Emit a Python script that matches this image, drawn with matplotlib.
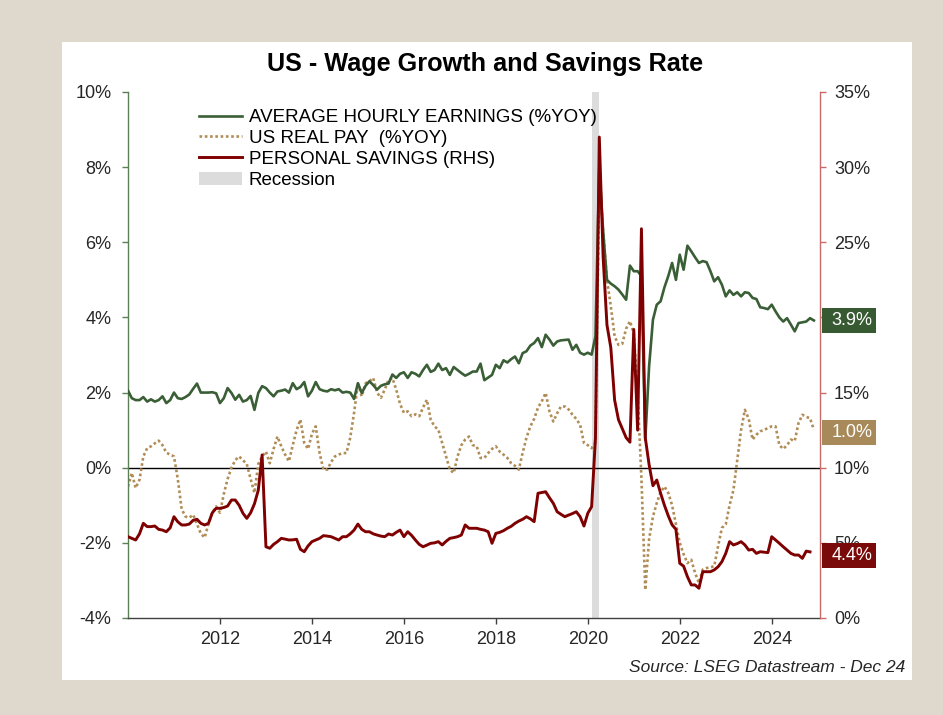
import matplotlib
matplotlib.use('Agg')
import matplotlib.pyplot as plt
import numpy as np
from matplotlib.lines import Line2D
from matplotlib.patches import Patch, Rectangle
import matplotlib.transforms as mtransforms

plt.rcParams['font.family'] = ['Liberation Sans', 'DejaVu Sans']

# ---------------- data (monthly, starting Jan 2010) ----------------
ahe = [
    2.05, 1.85, 1.80, 1.80, 1.88, 1.76, 1.82, 1.76, 1.80, 1.90, 1.72, 1.80,
    2.00, 1.85, 1.83, 1.88, 1.95, 2.10, 2.24, 2.00, 2.00, 2.00, 2.01, 1.98,
    1.72, 1.85, 2.12, 1.99, 1.81, 1.94, 1.76, 1.80, 1.91, 1.54, 1.99, 2.17,
    2.12, 2.00, 1.90, 2.03, 2.05, 2.08, 2.00, 2.25, 2.09, 2.15, 2.28, 1.90,
    2.05, 2.28, 2.09, 2.05, 2.03, 2.09, 2.06, 2.09, 2.00, 2.02, 2.00, 1.83,
    2.25, 1.99, 2.18, 2.30, 2.20, 2.08, 2.18, 2.22, 2.24, 2.48, 2.39, 2.50,
    2.54, 2.39, 2.54, 2.50, 2.43, 2.60, 2.74, 2.55, 2.60, 2.77, 2.60, 2.65,
    2.47, 2.68, 2.60, 2.52, 2.45, 2.50, 2.56, 2.56, 2.77, 2.33, 2.40, 2.47,
    2.74, 2.65, 2.86, 2.80, 2.89, 2.96, 2.78, 3.05, 3.10, 3.25, 3.32, 3.45,
    3.21, 3.54, 3.41, 3.25, 3.36, 3.39, 3.40, 3.41, 3.14, 3.27, 3.06, 3.01,
    3.06, 3.01, 3.50, 8.00, 6.30, 5.00, 4.90, 4.83, 4.74, 4.61, 4.47, 5.38,
    5.23, 5.23, 5.10, 0.74, 2.70, 3.94, 4.34, 4.43, 4.80, 5.10, 5.45, 5.00,
    5.67, 5.27, 5.91, 5.76, 5.60, 5.45, 5.50, 5.47, 5.23, 4.96, 5.07, 4.87,
    4.56, 4.72, 4.60, 4.67, 4.56, 4.67, 4.65, 4.52, 4.49, 4.27, 4.25, 4.22,
    4.34, 4.16, 4.00, 3.89, 3.98, 3.81, 3.63, 3.85, 3.87, 3.89, 3.98, 3.92,
]

real_pay = [
    -0.50, -0.14, -0.54, -0.32, 0.30, 0.52, 0.57, 0.65, 0.72, 0.60, 0.40, 0.35,
    0.30, -0.30, -1.10, -1.30, -1.33, -1.25, -1.50, -1.75, -1.86, -1.50, -1.20, -1.03,
    -1.20, -0.70, -0.30, 0.00, 0.20, 0.30, 0.20, 0.10, -0.30, -0.67, 0.10, 0.30,
    0.43, 0.12, 0.50, 0.83, 0.57, 0.35, 0.17, 0.60, 1.00, 1.28, 0.66, 0.50,
    0.90, 1.10, 0.39, -0.05, -0.05, 0.15, 0.30, 0.35, 0.39, 0.39, 0.80, 1.46,
    2.25, 1.90, 2.25, 2.30, 2.39, 2.00, 1.86, 2.08, 2.34, 2.39, 2.08, 1.70,
    1.46, 1.50, 1.37, 1.42, 1.37, 1.60, 1.81, 1.28, 1.10, 1.01, 0.66, 0.30,
    -0.05, -0.14, 0.30, 0.60, 0.75, 0.83, 0.60, 0.57, 0.26, 0.26, 0.39, 0.50,
    0.57, 0.43, 0.35, 0.26, 0.12, 0.05, -0.05, 0.40, 0.80, 1.10, 1.30, 1.60,
    1.77, 1.99, 1.50, 1.23, 1.45, 1.63, 1.63, 1.55, 1.41, 1.30, 1.14, 0.66,
    0.60, 0.52, 0.66, 7.70, 6.30, 5.00, 4.30, 3.50, 3.27, 3.30, 3.70, 3.90,
    3.58, 2.00, -0.30, -3.25, -1.90, -1.30, -0.94, -0.65, -0.50, -0.67, -1.00, -1.50,
    -2.00, -2.30, -2.54, -2.45, -2.80, -3.07, -2.71, -2.67, -2.65, -2.62, -2.09, -1.60,
    -1.51, -1.00, -0.60, 0.20, 1.00, 1.54, 1.30, 0.75, 0.88, 0.97, 1.00, 1.06,
    1.10, 1.10, 0.60, 0.50, 0.60, 0.75, 0.71, 1.19, 1.41, 1.35, 1.32, 1.01,
]

savings = [
    5.41, 5.30, 5.19, 5.60, 6.30, 6.08, 6.08, 6.12, 5.90, 5.85, 5.74, 6.00,
    6.74, 6.40, 6.19, 6.19, 6.25, 6.50, 6.57, 6.30, 6.19, 6.30, 7.00, 7.30,
    7.30, 7.35, 7.45, 7.85, 7.85, 7.50, 6.97, 6.63, 7.00, 7.60, 8.50, 10.85,
    4.74, 4.64, 4.90, 5.08, 5.30, 5.25, 5.19, 5.20, 5.24, 4.57, 4.41, 4.80,
    5.08, 5.19, 5.30, 5.48, 5.45, 5.41, 5.30, 5.19, 5.41, 5.41, 5.60, 5.85,
    6.25, 5.90, 5.74, 5.74, 5.60, 5.52, 5.45, 5.41, 5.59, 5.52, 5.70, 5.85,
    5.41, 5.74, 5.50, 5.19, 4.90, 4.74, 4.85, 4.97, 5.00, 5.08, 4.86, 5.10,
    5.30, 5.35, 5.41, 5.52, 6.19, 5.97, 5.97, 5.97, 5.90, 5.85, 5.74, 4.97,
    5.63, 5.70, 5.81, 5.97, 6.10, 6.30, 6.45, 6.57, 6.74, 6.60, 6.41, 8.30,
    8.35, 8.40, 8.00, 7.63, 7.07, 6.90, 6.74, 6.85, 6.95, 7.07, 6.74, 6.12,
    6.97, 7.41, 12.00, 32.00, 24.00, 19.50, 18.00, 14.50, 13.20, 12.60, 12.00, 11.70,
    19.20, 12.50, 25.90, 12.00, 10.20, 8.80, 9.18, 8.30, 7.50, 6.80, 6.20, 5.90,
    3.64, 3.45, 2.75, 2.20, 2.20, 1.98, 3.08, 3.08, 3.08, 3.20, 3.41, 3.75,
    4.30, 5.08, 4.86, 4.95, 5.08, 4.86, 4.52, 4.57, 4.30, 4.41, 4.38, 4.35,
    5.41, 5.19, 4.97, 4.74, 4.52, 4.30, 4.19, 4.19, 3.97, 4.45, 4.40,
]

start_year = 2010
year_ticks = [2012, 2014, 2016, 2018, 2020, 2022, 2024]
left_ticks = [-4, -2, 0, 2, 4, 6, 8, 10]
right_ticks = [0, 5, 10, 15, 20, 25, 30, 35]
right_hidden = [20]          # label covered by the end-value box in the original
recession = (2020 + 1 / 12, 2020 + 3 / 12)

labels = ["AVERAGE HOURLY EARNINGS (%YOY)", "US REAL PAY  (%YOY)",
          "PERSONAL SAVINGS (RHS)", "Recession"]

# ---------------- styling ----------------
C_GREEN = '#3a5e35'
C_TAN = '#b08d57'
C_RED = '#7f0000'
C_REC = '#dcdcdc'
C_TXT = '#262626'

W, H = 943, 715
fig = plt.figure(figsize=(W / 100, H / 100), dpi=100, facecolor='#dfd8cc')
fig.patches.append(Rectangle((62 / W, 1 - 680 / H), (912 - 62) / W, (680 - 42) / H,
                             transform=fig.transFigure, facecolor='white',
                             edgecolor='none', zorder=-5))

ax = fig.add_axes([128 / W, 1 - 618 / H, (820 - 128) / W, (618 - 92) / H])
ax.set_zorder(1)
ax.patch.set_visible(False)
ax2 = ax.twinx()
ax2.set_zorder(2)
ax2.patch.set_visible(False)

x_ahe = start_year + np.arange(len(ahe)) / 12
x_real = start_year + np.arange(len(real_pay)) / 12
x_sav = start_year + np.arange(len(savings)) / 12

ax.axvspan(recession[0], recession[1], color=C_REC, lw=0, zorder=0)
ax.axhline(0, color='black', lw=1.0, zorder=1)
ax.plot(x_real, real_pay, color=C_TAN, lw=1.9, ls=(0, (1, 1)), zorder=2)
ax.plot(x_ahe, ahe, color=C_GREEN, lw=1.9, zorder=3)
ax2.plot(x_sav, savings, color=C_RED, lw=2.1, zorder=3)

ax.set_xlim(2010.0, 2025.05)
ax.set_ylim(-4, 10)
ax2.set_ylim(0, 35)

ax.set_xticks(year_ticks)
ax.set_xticklabels([str(y) for y in year_ticks])
ax.set_yticks(left_ticks)
ax.set_yticklabels([f"{v}%" for v in left_ticks])
ax2.set_yticks(right_ticks)
ax2.set_yticklabels(["" if v in right_hidden else f"{v}%" for v in right_ticks])

for s in ['top', 'right']:
    ax.spines[s].set_visible(False)
for s in ['top', 'left', 'bottom']:
    ax2.spines[s].set_visible(False)
ax.spines['left'].set_color('#5b8055')
ax.spines['left'].set_linewidth(1.0)
ax.spines['bottom'].set_color('#404040')
ax.spines['bottom'].set_linewidth(1.0)
ax2.spines['right'].set_color('#c86a6a')
ax2.spines['right'].set_linewidth(1.0)

ax.tick_params(axis='x', direction='out', length=4, width=1, color='#404040',
               labelsize=13, labelcolor=C_TXT, pad=5)
ax.tick_params(axis='y', direction='out', length=4, width=1, color='#5b8055',
               labelsize=13, labelcolor=C_TXT, pad=8)
ax2.tick_params(axis='y', direction='out', length=4, width=1, color='#c86a6a',
                labelsize=13, labelcolor=C_TXT, pad=6)

# title
fig.text(485 / W, 1 - 64 / H, "US - Wage Growth and Savings Rate", ha='center',
         va='center', fontsize=18.2, fontweight='bold', color='black')

# legend
handles = [Line2D([], [], color=C_GREEN, lw=1.9),
           Line2D([], [], color=C_TAN, lw=1.9, ls=(0, (1, 1))),
           Line2D([], [], color=C_RED, lw=2.1),
           Patch(facecolor=C_REC, edgecolor='none')]
fig.legend(handles, labels, loc='upper left', bbox_to_anchor=(199 / W, 1 - 109 / H),
           frameon=False, fontsize=13.5, handlelength=2.3, handletextpad=0.35,
           labelspacing=0.2, borderpad=0, borderaxespad=0)

# end-value boxes
def value_box(y_axis, val, color, units_per_px, text, dy_px=0):
    trans = mtransforms.blended_transform_factory(ax2.transAxes, y_axis.transData)
    hh = 25 * units_per_px
    yc = val - dy_px * units_per_px
    bw = 54 / 692
    x0 = 1 + 2 / 692
    fig.add_artist(Rectangle((x0, yc - hh / 2), bw, hh, transform=trans,
                             facecolor=color, edgecolor='none', zorder=20))
    fig.text(x0 + bw / 2 + 3 / 692, yc, text, transform=trans, ha='center',
             va='center', fontsize=13, color='white', zorder=21)

value_box(ax, ahe[-1], '#375a32', 14 / 526, f"{ahe[-1]:.1f}%")
value_box(ax, real_pay[-1], '#a88a5a', 14 / 526, f"{real_pay[-1]:.1f}%", dy_px=3)
value_box(ax2, savings[-1], '#7a0a0a', 35 / 526, f"{savings[-1]:.1f}%", dy_px=4)

fig.text(905 / W, 1 - 668 / H, "Source: LSEG Datastream - Dec 24", ha='right',
         va='center', fontsize=12.5, style='italic', color=C_TXT)

fig.savefig('out.png', dpi=100, facecolor=fig.get_facecolor())
